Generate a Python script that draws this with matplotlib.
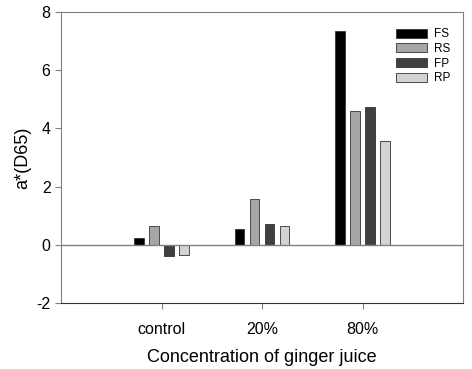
import numpy as np
import matplotlib
matplotlib.use('Agg')
import matplotlib.pyplot as plt

plt.rcParams['font.family'] = ['Liberation Sans', 'DejaVu Sans']
plt.rcParams['axes.unicode_minus'] = False

categories = ['control', '20%', '80%']
series = ['FS', 'RS', 'FP', 'RP']
values = {
    'FS': [0.24, 0.56, 7.35],
    'RS': [0.63, 1.57, 4.60],
    'FP': [-0.39, 0.72, 4.75],
    'RP': [-0.36, 0.65, 3.57],
}
colors = {'FS': '#000000', 'RS': '#a6a6a6', 'FP': '#404040', 'RP': '#d3d3d3'}

fig = plt.figure(figsize=(4.72, 3.69), dpi=100)
ax = fig.add_axes([61 / 472, 66 / 369, 402 / 472, 291 / 369])

x = np.arange(1, len(categories) + 1)
step = 0.15
width = 0.095
for i, name in enumerate(series):
    ax.bar(x + (i - 1.5) * step, values[name], width, color=colors[name],
           edgecolor='#333333', linewidth=0.6, label=name)

ax.axhline(0, color='#808080', linewidth=1)
ax.set_xlim(0, 4)
ax.set_ylim(-2, 8)
ax.set_xticks(x)
ax.set_xticklabels(categories)
ax.set_yticks([-2, 0, 2, 4, 6, 8])

for side in ['left', 'top', 'right']:
    ax.spines[side].set_color('#808080')
ax.spines['bottom'].set_color('#333333')
ax.tick_params(axis='both', labelsize=11.5, length=4, color='#808080')
ax.tick_params(axis='x', pad=10)

ax.set_xlabel('Concentration of ginger juice', fontsize=13, labelpad=8)
ax.set_ylabel('a*(D65)', fontsize=13, labelpad=4)

ax.legend(loc='upper right', frameon=False, fontsize=8.5, handlelength=2.6,
          handleheight=0.8, labelspacing=0.22, handletextpad=0.6,
          bbox_to_anchor=(0.995, 0.98))

fig.savefig('out.png', dpi=100)
